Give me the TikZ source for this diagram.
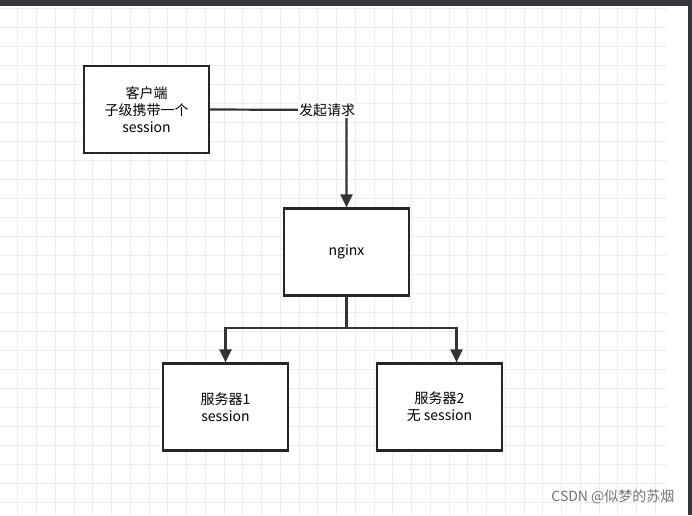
\documentclass[tikz,border=0pt]{standalone}
\usepackage{fontspec}
\setmainfont{Noto Sans CJK SC}
\usetikzlibrary{positioning,arrows.meta}
\definecolor{barcol}{RGB}{52,56,62}
\tikzset{
  box/.style={draw=black!85,line width=2.2pt,minimum width=125pt,minimum height=87pt,align=center,font=\fontsize{14}{17}\selectfont,fill=white},
  link/.style={draw=black!80,line width=2.2pt},
  arr/.style={link,-{Triangle[length=13pt,width=12pt]}}
}
\begin{document}
\begin{tikzpicture}[x=1pt,y=-1pt]
 \useasboundingbox (0,0) rectangle (692,515);
 \fill[white] (0,0) rectangle (692,515);
 % grid
 \foreach \i in {0,...,35} \draw[black!7,line width=1pt] (\i*18.75-1,8) -- (\i*18.75-1,515);
 \foreach \j in {0,...,27} \draw[black!7,line width=1pt] (0,8+\j*19) -- (667,8+\j*19);
 \fill[barcol] (0,0) rectangle (692,6);
 \fill[barcol] (688,0) rectangle (692,515);
 % boxes
 \node[box] (client) at (146.5,109.5) {客户端\\子级携带一个\\session};
 \node[box] (nginx) at (346.5,252) {nginx};
 \node[box] (srvA) at (225.5,407) {服务器1\\session};
 \node[box] (srvB) at (439.5,407) {服务器2\\无 session};
 % connectors
 \coordinate (turn) at (346.5,110);
 \draw[arr] (client.east) -- (turn) -- (nginx.north);
 \node[fill=white,inner sep=1pt,font=\fontsize{14}{17}\selectfont] (ask) at (327,110) {发起请求};
 \coordinate (split) at (346.5,328);
 \draw[link] (nginx.south) -- (split);
 \draw[arr] (split) -| (srvA.north);
 \draw[arr] (split) -| ([xshift=17pt]srvB.north);
 \node[text=black!55,font=\fontsize{14}{17}\selectfont,anchor=east] (mark) at (678,497) {CSDN @似梦的苏烟};
\end{tikzpicture}
\end{document}
